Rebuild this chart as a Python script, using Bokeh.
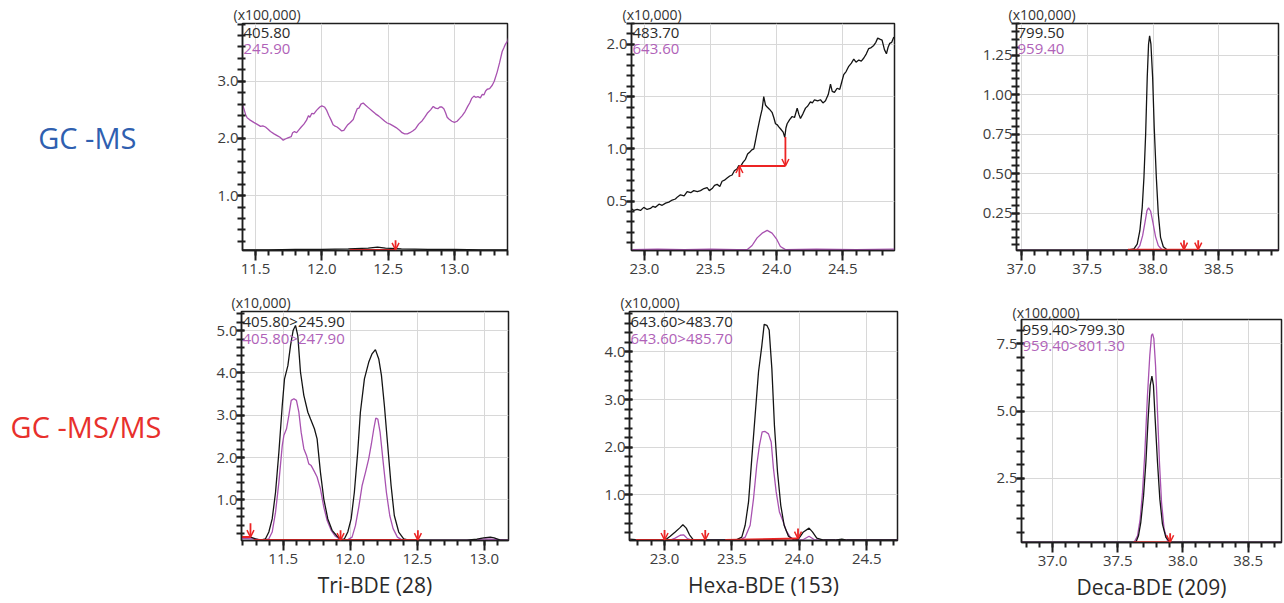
import numpy as np
from bokeh.plotting import figure
from bokeh.models import (Range1d, FixedTicker, PrintfTickFormatter, Label,
                          Arrow, OpenHead, ColumnDataSource)
from bokeh.layouts import row, column
from bokeh.embed import file_html
from bokeh.resources import INLINE

# ---------------------------------------------------------------- text data
row_labels = ["GC -MS", "GC -MS/MS"]
compound_names = ["Tri-BDE (28)", "Hexa-BDE (153)", "Deca-BDE (209)"]
scale_ms = ["(x100,000)", "(x10,000)", "(x100,000)"]
scale_msms = ["(x10,000)", "(x10,000)", "(x100,000)"]
ions_ms = [("405.80", "245.90"), ("483.70", "643.60"), ("799.50", "959.40")]
ions_msms = [("405.80>245.90", "405.80>247.90"),
             ("643.60>483.70", "643.60>485.70"),
             ("959.40>799.30", "959.40>801.30")]

# ---------------------------------------------------------------- Tri-BDE GC-MS
tri_ms_black_t = [11.40, 11.6, 11.8, 12.0, 12.2, 12.35, 12.42, 12.48, 12.6, 12.8, 13.0, 13.2, 13.41]
tri_ms_black_i = [0.05, 0.05, 0.06, 0.06, 0.07, 0.08, 0.10, 0.08, 0.07, 0.06, 0.06, 0.05, 0.05]
tri_ms_purple_t = [11.404, 11.415, 11.425, 11.437, 11.46, 11.487, 11.51, 11.538, 11.555, 11.575,
                   11.595, 11.613, 11.64, 11.663, 11.685, 11.709, 11.725, 11.744, 11.769, 11.78,
                   11.794, 11.81, 11.827, 11.845, 11.865, 11.885, 11.90, 11.91, 11.925, 11.94,
                   11.96, 11.985, 12.0, 12.02, 12.037, 12.053, 12.07, 12.085, 12.096, 12.115,
                   12.136, 12.15, 12.166, 12.18, 12.196, 12.215, 12.237, 12.25, 12.267, 12.28,
                   12.295, 12.312, 12.33, 12.355, 12.38, 12.405, 12.43, 12.455, 12.475, 12.493,
                   12.515, 12.538, 12.56, 12.588, 12.605, 12.624, 12.645, 12.664, 12.685, 12.707,
                   12.73, 12.757, 12.775, 12.795, 12.82, 12.84, 12.857, 12.875, 12.89, 12.905,
                   12.92, 12.933, 12.945, 12.958, 12.98, 13.0, 13.02, 13.04, 13.059, 13.08,
                   13.1, 13.115, 13.13, 13.147, 13.16, 13.177, 13.195, 13.21, 13.222, 13.235,
                   13.247, 13.265, 13.285, 13.3, 13.322, 13.34, 13.36, 13.372, 13.385, 13.40, 13.41]
tri_ms_purple_i = [2.58, 2.50, 2.42, 2.36, 2.32, 2.28, 2.25, 2.21, 2.22, 2.20,
                   2.16, 2.12, 2.08, 2.05, 2.02, 1.97, 1.99, 2.01, 2.03, 2.10,
                   2.12, 2.10, 2.15, 2.20, 2.25, 2.32, 2.40, 2.37, 2.44, 2.43,
                   2.49, 2.55, 2.57, 2.55, 2.49, 2.40, 2.32, 2.24, 2.22, 2.20,
                   2.16, 2.13, 2.14, 2.19, 2.24, 2.28, 2.33, 2.42, 2.52, 2.53,
                   2.60, 2.62, 2.58, 2.53, 2.48, 2.43, 2.39, 2.34, 2.30, 2.27,
                   2.25, 2.22, 2.19, 2.14, 2.10, 2.08, 2.08, 2.10, 2.13, 2.17,
                   2.25, 2.31, 2.37, 2.44, 2.50, 2.56, 2.53, 2.52, 2.55, 2.55,
                   2.52, 2.45, 2.37, 2.34, 2.30, 2.28, 2.30, 2.35, 2.40, 2.47,
                   2.56, 2.62, 2.70, 2.74, 2.72, 2.73, 2.71, 2.77, 2.76, 2.83,
                   2.86, 2.87, 2.93, 3.00, 3.16, 3.32, 3.52, 3.58, 3.65, 3.70, 3.78]
tri_ms_base = dict(x0=[12.21], y0=[0.05], x1=[12.556], y1=[0.05])
tri_ms_arrows = dict(x=[12.556], ys=[0.22], ye=[0.05])

# ---------------------------------------------------------------- Hexa-BDE GC-MS
hexa_ms_black_t = [22.899, 22.92, 22.945, 22.97, 22.995, 23.02, 23.045, 23.065, 23.083, 23.11,
                   23.134, 23.16, 23.184, 23.21, 23.234, 23.25, 23.272, 23.30, 23.323, 23.35,
                   23.373, 23.40, 23.424, 23.45, 23.474, 23.49, 23.512, 23.53, 23.55, 23.57,
                   23.587, 23.605, 23.625, 23.645, 23.663, 23.68, 23.701, 23.713, 23.726, 23.745,
                   23.764, 23.78, 23.797, 23.812, 23.827, 23.84, 23.852, 23.865, 23.877, 23.89,
                   23.902, 23.915, 23.928, 23.945, 23.965, 23.978, 23.991, 24.005, 24.016, 24.03,
                   24.049, 24.061, 24.07, 24.079, 24.098, 24.117, 24.135, 24.155, 24.168, 24.18,
                   24.2, 24.218, 24.235, 24.255, 24.27, 24.286, 24.31, 24.331, 24.35, 24.369,
                   24.39, 24.407, 24.42, 24.437, 24.457, 24.477, 24.492, 24.507, 24.525, 24.545,
                   24.565, 24.583, 24.6, 24.621, 24.64, 24.659, 24.678, 24.696, 24.715, 24.734,
                   24.75, 24.764, 24.78, 24.797, 24.815, 24.83, 24.842, 24.855, 24.87, 24.886]
hexa_ms_black_i = [0.43, 0.41, 0.42, 0.41, 0.44, 0.42, 0.43, 0.45, 0.44, 0.47,
                   0.46, 0.48, 0.49, 0.51, 0.52, 0.54, 0.56, 0.55, 0.59, 0.58,
                   0.60, 0.59, 0.60, 0.62, 0.63, 0.60, 0.62, 0.65, 0.66, 0.64,
                   0.69, 0.70, 0.72, 0.74, 0.75, 0.79, 0.81, 0.84, 0.83, 0.87,
                   0.90, 0.95, 0.97, 0.99, 1.00, 1.08, 1.16, 1.24, 1.31, 1.38,
                   1.50, 1.42, 1.40, 1.38, 1.35, 1.30, 1.24, 1.23, 1.21, 1.19,
                   1.16, 1.11, 1.20, 1.24, 1.28, 1.31, 1.30, 1.39, 1.33, 1.29,
                   1.34, 1.39, 1.41, 1.45, 1.44, 1.47, 1.46, 1.47, 1.44, 1.46,
                   1.52, 1.62, 1.55, 1.54, 1.58, 1.57, 1.64, 1.71, 1.74, 1.79,
                   1.82, 1.86, 1.83, 1.85, 1.84, 1.87, 1.91, 1.96, 1.97, 1.99,
                   2.02, 2.06, 2.05, 2.04, 1.95, 1.91, 1.97, 2.01, 2.02, 2.07]
hexa_ms_purple_t = [22.90, 23.1, 23.3, 23.5, 23.7, 23.776, 23.814, 23.852, 23.89, 23.928,
                    23.965, 23.998, 24.028, 24.066, 24.3, 24.6, 24.89]
hexa_ms_purple_i = [0.035, 0.04, 0.035, 0.04, 0.035, 0.035, 0.075, 0.148, 0.193, 0.219,
                    0.193, 0.139, 0.066, 0.035, 0.04, 0.035, 0.04]
hexa_ms_base = dict(x0=[23.718], y0=[0.836], x1=[24.066], y1=[0.836])
hexa_ms_arrows = dict(x=[23.718, 24.066], ys=[0.73, 1.114], ye=[0.836, 0.836])

# ---------------------------------------------------------------- Deca-BDE GC-MS
deca_ms_black_t = [36.96, 37.804, 37.855, 37.88, 37.90, 37.918, 37.931, 37.944, 37.956, 37.966,
                   37.974, 37.984, 37.997, 38.009, 38.025, 38.04, 38.057, 38.078, 38.108, 38.96]
deca_ms_black_i = [0.018, 0.018, 0.025, 0.056, 0.14, 0.288, 0.477, 0.751, 1.109, 1.319,
                   1.372, 1.319, 1.109, 0.793, 0.477, 0.246, 0.098, 0.039, 0.018, 0.018]
deca_ms_purple_t = [36.96, 37.875, 37.90, 37.921, 37.939, 37.954, 37.966, 37.982, 37.999, 38.019,
                    38.04, 38.07, 38.96]
deca_ms_purple_i = [0.018, 0.018, 0.046, 0.109, 0.193, 0.267, 0.284, 0.263, 0.193, 0.103,
                    0.046, 0.018, 0.018]
deca_ms_base = dict(x0=[37.81], y0=[0.02], x1=[38.34], y1=[0.02])
deca_ms_arrows = dict(x=[38.235, 38.343], ys=[0.08, 0.08], ye=[0.02, 0.02])

# ---------------------------------------------------------------- Tri-BDE GC-MS/MS
tri_msms_black_t = [11.182, 11.257, 11.294, 11.331, 11.368, 11.393, 11.418, 11.443, 11.468, 11.493,
                    11.51, 11.535, 11.555, 11.574, 11.592, 11.609, 11.629, 11.654, 11.684, 11.704,
                    11.733, 11.753, 11.778, 11.803, 11.833, 11.865, 11.902, 11.932, 11.957, 11.982,
                    12.007, 12.031, 12.056, 12.076, 12.106, 12.138, 12.163, 12.188, 12.213, 12.233,
                    12.255, 12.28, 12.305, 12.329, 12.362, 12.399, 12.436, 12.622, 12.871, 12.945,
                    12.995, 13.045, 13.074, 13.119, 13.19]
tri_msms_black_i = [0.14, 0.12, 0.08, 0.05, 0.08, 0.24, 0.55, 1.18, 2.13, 3.23,
                    3.86, 4.17, 4.65, 5.00, 5.12, 4.88, 4.02, 3.47, 3.07, 2.91,
                    2.68, 2.44, 1.65, 1.02, 0.55, 0.28, 0.14, 0.06, 0.08, 0.24,
                    0.55, 1.18, 2.13, 3.07, 3.86, 4.25, 4.45, 4.55, 4.33, 3.94,
                    3.23, 2.28, 1.34, 0.63, 0.24, 0.08, 0.05, 0.05, 0.05, 0.07,
                    0.10, 0.12, 0.10, 0.05, 0.05]
tri_msms_purple_t = [11.182, 11.281, 11.356, 11.393, 11.418, 11.443, 11.468, 11.493, 11.505, 11.525,
                     11.542, 11.56, 11.58, 11.599, 11.617, 11.634, 11.654, 11.674, 11.691, 11.709,
                     11.729, 11.753, 11.778, 11.803, 11.828, 11.858, 11.89, 11.927, 11.977, 12.014,
                     12.039, 12.064, 12.089, 12.114, 12.138, 12.158, 12.176, 12.191, 12.206, 12.223,
                     12.246, 12.27, 12.295, 12.32, 12.352, 12.389, 12.6, 12.88, 12.955, 13.005,
                     13.06, 13.19]
tri_msms_purple_i = [0.09, 0.08, 0.05, 0.08, 0.24, 0.71, 1.42, 2.28, 2.52, 2.68,
                     2.99, 3.35, 3.39, 3.35, 3.07, 2.60, 2.21, 2.05, 1.85, 1.81,
                     1.69, 1.54, 1.26, 0.83, 0.51, 0.28, 0.14, 0.06, 0.05, 0.12,
                     0.39, 0.83, 1.34, 1.65, 1.97, 2.32, 2.68, 2.93, 2.91, 2.60,
                     1.89, 1.18, 0.63, 0.32, 0.12, 0.05, 0.05, 0.05, 0.06, 0.08,
                     0.07, 0.05]
tri_msms_base = dict(x0=[11.19, 11.28], y0=[0.12, 0.05], x1=[11.256, 12.505], y1=[0.12, 0.05])
tri_msms_arrows = dict(x=[11.256, 11.928, 12.505], ys=[0.45, 0.28, 0.28], ye=[0.12, 0.05, 0.05])

# ---------------------------------------------------------------- Hexa-BDE GC-MS/MS
hexa_msms_black_t = [22.745, 22.783, 22.844, 22.943, 23.005, 23.042, 23.079, 23.111, 23.136, 23.161,
                     23.185, 23.215, 23.264, 23.437, 23.536, 23.573, 23.598, 23.623, 23.647, 23.672,
                     23.697, 23.722, 23.739, 23.759, 23.776, 23.796, 23.815, 23.838, 23.862, 23.887,
                     23.919, 23.961, 23.993, 24.03, 24.072, 24.097, 24.129, 24.179, 24.265, 24.315,
                     24.352, 24.73]
hexa_msms_black_i = [0.07, 0.06, 0.05, 0.05, 0.05, 0.13, 0.22, 0.30, 0.37, 0.30,
                     0.16, 0.05, 0.05, 0.05, 0.06, 0.11, 0.36, 0.85, 1.76, 2.67,
                     3.58, 4.14, 4.58, 4.56, 4.46, 3.65, 2.46, 1.48, 0.78, 0.36,
                     0.13, 0.05, 0.07, 0.22, 0.30, 0.22, 0.09, 0.05, 0.05, 0.07,
                     0.05, 0.05]
hexa_msms_purple_t = [22.745, 23.042, 23.079, 23.116, 23.141, 23.17, 23.203, 23.56, 23.598, 23.635,
                      23.66, 23.684, 23.704, 23.724, 23.746, 23.771, 23.791, 23.808, 23.828, 23.852,
                      23.877, 23.902, 23.932, 23.969, 24.03, 24.072, 24.109, 24.15, 24.73]
hexa_msms_purple_i = [0.05, 0.05, 0.09, 0.15, 0.16, 0.08, 0.05, 0.05, 0.11, 0.36,
                      0.92, 1.62, 2.04, 2.32, 2.33, 2.28, 2.11, 1.55, 1.06, 0.64,
                      0.46, 0.25, 0.11, 0.05, 0.06, 0.13, 0.06, 0.05, 0.05]
hexa_msms_base = dict(x0=[22.788, 23.45], y0=[0.05, 0.05], x1=[23.302, 23.99], y1=[0.05, 0.08])
hexa_msms_arrows = dict(x=[23.0, 23.302, 23.99], ys=[0.26, 0.26, 0.29], ye=[0.05, 0.05, 0.08])

# ---------------------------------------------------------------- Deca-BDE GC-MS/MS
deca_msms_black_t = [36.76, 37.639, 37.659, 37.677, 37.698, 37.716, 37.733, 37.749, 37.762, 37.774,
                     37.787, 37.805, 37.823, 37.843, 37.869, 37.902, 38.76]
deca_msms_black_i = [0.13, 0.13, 0.37, 0.87, 1.85, 3.10, 4.71, 5.95, 6.30, 5.95,
                     4.71, 3.10, 1.73, 0.80, 0.31, 0.13, 0.13]
deca_msms_purple_t = [36.76, 37.626, 37.652, 37.672, 37.69, 37.708, 37.728, 37.746, 37.759, 37.767,
                      37.777, 37.79, 37.805, 37.82, 37.836, 37.856, 37.882, 37.907, 38.76]
deca_msms_purple_i = [0.13, 0.13, 0.37, 0.99, 1.98, 3.47, 5.58, 7.07, 7.81, 7.87,
                      7.69, 6.69, 4.96, 3.10, 1.61, 0.61, 0.18, 0.13, 0.13]
deca_msms_base = dict(x0=[37.621], y0=[0.13], x1=[37.902], y1=[0.13])
deca_msms_arrows = dict(x=[37.902], ys=[0.46], ye=[0.13])

# ---------------------------------------------------------------- styling
BLACK = "#141414"
PURPLE = "#a852b0"
PURPLE_TXT = "#b062b8"
RED = "#ec2424"
FONT = "Open Sans"
FRAME = "#1e1e1e"


def make_panel(xr, yr, fw, fh, bl, br, bt, bb, ymaj, ystep, yfmt, scale_txt, scale_dx, title_standoff):
    p = figure(width=bl + fw + br, height=bt + fh + bb,
               x_range=Range1d(*xr), y_range=Range1d(*yr),
               output_backend="svg", toolbar_location=None,
               min_border_left=bl, min_border_right=br,
               min_border_top=bt, min_border_bottom=bb)
    if "frame_align" in p.properties():
        p.frame_align = False
    p.outline_line_color = FRAME
    p.outline_line_width = 1.5
    p.outline_line_alpha = 1.0
    # multiplier text above the frame
    p.title.text = scale_txt
    p.title.align = "left"
    p.title.offset = scale_dx
    p.title.standoff = title_standoff
    p.title.text_font = FONT
    p.title.text_font_size = "14px"
    p.title.text_font_style = "normal"
    p.title.text_color = "#333333"

    xmaj = [round(v, 1) for v in np.arange(np.ceil(xr[0] * 2) / 2, xr[1] + 1e-9, 0.5)]
    xmin = [round(v, 1) for v in np.arange(np.ceil(xr[0] * 10) / 10, xr[1] + 1e-9, 0.1)]
    ymin = [round(v, 3) for v in np.arange(ystep, yr[1] + 1e-9, ystep) if v >= yr[0]]

    xa = p.xaxis[0]
    xa.ticker = FixedTicker(ticks=xmaj, minor_ticks=xmin)
    xa.formatter = PrintfTickFormatter(format="%.1f")
    xa.major_tick_out, xa.major_tick_in = 10, 0
    xa.minor_tick_out, xa.minor_tick_in = 5, 0
    ya = p.yaxis[0]
    ya.ticker = FixedTicker(ticks=ymaj, minor_ticks=ymin)
    ya.formatter = PrintfTickFormatter(format=yfmt)
    ya.major_tick_out, ya.major_tick_in = 5, 3
    ya.minor_tick_out, ya.minor_tick_in = 5, 3
    ya.major_label_standoff = -1
    xa.major_label_standoff = 3
    for ax in (xa, ya):
        ax.axis_line_color = FRAME
        ax.axis_line_width = 1.5
        ax.major_tick_line_color = FRAME
        ax.minor_tick_line_color = FRAME
        ax.major_tick_line_width = 2
        ax.minor_tick_line_width = 2
        ax.major_label_text_font = FONT
        ax.major_label_text_font_size = "15px"
        ax.major_label_text_color = "#3c3c3c"
        ax.axis_label_text_font = FONT
        ax.axis_label_text_font_style = "normal"
    p.xgrid.ticker = FixedTicker(ticks=xmaj)
    p.ygrid.ticker = FixedTicker(ticks=ymaj)
    for g in (p.xgrid, p.ygrid):
        g.grid_line_color = "#d8d8d8"
        g.grid_line_width = 1
    return p


def add_traces(p, bt, bi, pt, pi, base, arrows):
    p.line(pt, pi, line_color=PURPLE, line_width=1.3)
    p.line(bt, bi, line_color=BLACK, line_width=1.3)
    p.segment(x0=base["x0"], y0=base["y0"], x1=base["x1"], y1=base["y1"],
              line_color=RED, line_width=2)
    src = ColumnDataSource(dict(x=arrows["x"], ys=arrows["ys"], ye=arrows["ye"]))
    p.add_layout(Arrow(end=OpenHead(size=7, line_color=RED, line_width=1.5),
                       x_start="x", y_start="ys", x_end="x", y_end="ye",
                       source=src, line_color=RED, line_width=1.8))


def add_ions(p, fh, ions, dx, dy1, dy2):
    p.add_layout(Label(x=dx, y=fh - dy1, x_units="screen", y_units="screen",
                       text=ions[0], text_font=FONT, text_font_size="15px",
                       text_color="#2a2a2a", text_baseline="middle", text_align="left"))
    p.add_layout(Label(x=dx, y=fh - dy2, x_units="screen", y_units="screen",
                       text=ions[1], text_font=FONT, text_font_size="15px",
                       text_color=PURPLE_TXT, text_baseline="middle", text_align="left"))


def row_label(p, text, color, standoff):
    ya = p.yaxis[0]
    ya.axis_label = text
    ya.axis_label_orientation = "horizontal"
    ya.axis_label_text_font_size = "29px"
    ya.axis_label_text_color = color
    ya.axis_label_standoff = standoff


def compound_label(p, text):
    xa = p.xaxis[0]
    xa.axis_label = text
    xa.axis_label_text_font_size = "21px"
    xa.axis_label_text_color = "#2a2a2a"
    xa.axis_label_standoff = 4


# ---------------------------------------------------------------- top row
p1 = make_panel((11.402, 13.40), (0.04, 4.01), 265, 227, 242, 40, 23, 38,
                [1.0, 2.0, 3.0], 0.2, "%.1f", scale_ms[0], -9, 0)
add_traces(p1, tri_ms_black_t, tri_ms_black_i, tri_ms_purple_t, tri_ms_purple_i,
           tri_ms_base, tri_ms_arrows)
add_ions(p1, 227, ions_ms[0], 1, 9, 25)
row_label(p1, row_labels[0], "#2f5fb0", 78)

p2 = make_panel((22.902, 24.891), (0.027, 2.20), 263, 227, 84, 40, 23, 38,
                [0.5, 1.0, 1.5, 2.0], 0.1, "%.1f", scale_ms[1], -9, 0)
add_traces(p2, hexa_ms_black_t, hexa_ms_black_i, hexa_ms_purple_t, hexa_ms_purple_i,
           hexa_ms_base, hexa_ms_arrows)
add_ions(p2, 227, ions_ms[1], 1, 9, 25)

p3 = make_panel((36.964, 38.952), (0.015, 1.45), 262, 227, 82, 6, 23, 38,
                [0.25, 0.5, 0.75, 1.0, 1.25], 0.05, "%.2f", scale_ms[2], -8, 0)
add_traces(p3, deca_ms_black_t, deca_ms_black_i, deca_ms_purple_t, deca_ms_purple_i,
           deca_ms_base, deca_ms_arrows)
add_ions(p3, 227, ions_ms[2], 1, 9, 25)

# ---------------------------------------------------------------- bottom row
p4 = make_panel((11.189, 13.181), (0.04, 5.45), 267, 229, 241, 40, 23, 63,
                [1.0, 2.0, 3.0, 4.0, 5.0], 0.2, "%.1f", scale_msms[0], -10, -1)
add_traces(p4, tri_msms_black_t, tri_msms_black_i, tri_msms_purple_t, tri_msms_purple_i,
           tri_msms_base, tri_msms_arrows)
add_ions(p4, 229, ions_msms[0], 1, 9, 26)
row_label(p4, row_labels[1], "#e8302c", 52)
compound_label(p4, compound_names[0])

p5 = make_panel((22.740, 24.728), (0.04, 4.85), 268, 229, 81, 40, 23, 63,
                [1.0, 2.0, 3.0, 4.0], 0.2, "%.1f", scale_msms[1], -9, -1)
add_traces(p5, hexa_msms_black_t, hexa_msms_black_i, hexa_msms_purple_t, hexa_msms_purple_i,
           hexa_msms_base, hexa_msms_arrows)
add_ions(p5, 229, ions_msms[1], 1, 9, 26)
compound_label(p5, compound_names[1])

p6 = make_panel((36.762, 38.756), (0.12, 8.40), 260, 223, 84, 3, 31, 61,
                [2.5, 5.0, 7.5], 0.5, "%.1f", scale_msms[2], -9, -4)
add_traces(p6, deca_msms_black_t, deca_msms_black_i, deca_msms_purple_t, deca_msms_purple_i,
           deca_msms_base, deca_msms_arrows)
add_ions(p6, 223, ions_msms[2], 1, 9, 25)
compound_label(p6, compound_names[2])

layout = column(row(p1, p2, p3), row(p4, p5, p6))
open("out.html", "w").write(file_html(layout, INLINE, "PBDE chromatograms"))
